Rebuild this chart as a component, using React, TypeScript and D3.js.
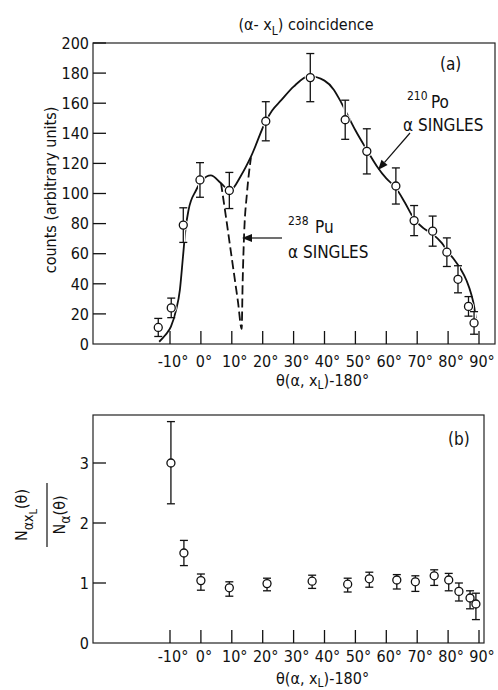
import React from 'react';
import * as d3 from 'd3';

// (a) alpha - x_L coincidence counts
const topTheta = [-13.8, -9.6, -5.7, -0.3, 9.2, 21, 35.4, 46.7, 53.7, 63.1, 69, 75, 79.6, 83.2, 86.6, 88.4];
const topCounts = [11, 24, 79, 109, 102, 148, 177, 149, 128, 105, 82, 75, 61, 43, 25, 14];
const topErr = [6, 6.5, 11.5, 11.5, 12, 13, 16, 13, 15, 12, 10, 10, 9.5, 9, 6.5, 7.5];

// 210Po alpha singles (solid curve)
const poTheta = [-13.5, -11.5, -9.7, -8.1, -6.8, -5.8, -5.0, -4.0, -1.6, 0.5, 3.2, 6.5, 9.4, 13, 16.2, 21, 23, 26, 30, 35, 40, 43, 45, 47.5, 50, 53.7, 57, 60, 63, 66, 69, 72, 75, 78, 80, 82, 84, 86, 87.5, 88.5, 89];
const poCounts = [1.5, 6, 11.5, 22, 36, 58, 76, 89, 102, 109, 112, 106.8, 102, 112, 124.5, 148, 155, 162, 171, 178, 175, 169, 162, 152, 142, 129, 118, 110, 104, 94, 83, 77, 73, 67, 61, 56, 50, 42, 33, 24, 16];

// 238Pu alpha singles (dashed curve, where it departs from the solid one)
const puTheta = [6.5, 8, 10, 12, 13.2, 13.5, 14, 14.9, 16.2];
const puCounts = [107, 86, 57, 28, 10, 40, 73.5, 100, 124];

// (b) ratio N_axL / N_a
const ratioTheta = [-9.7, -5.5, 0, 9.2, 21.4, 36, 47.5, 54.5, 63.4, 69.4, 75.5, 80.2, 83.5, 87.1, 89];
const ratio = [3.0, 1.5, 1.04, 0.92, 0.99, 1.03, 0.98, 1.07, 1.05, 1.02, 1.12, 1.05, 0.86, 0.75, 0.65];
const ratioLo = [2.32, 1.29, 0.88, 0.78, 0.87, 0.91, 0.85, 0.93, 0.9, 0.86, 0.96, 0.87, 0.7, 0.57, 0.39];
const ratioHi = [3.69, 1.71, 1.15, 1.02, 1.08, 1.13, 1.08, 1.18, 1.14, 1.12, 1.22, 1.16, 1.0, 0.87, 0.83];

const xTicks = [-10, 0, 10, 20, 30, 40, 50, 60, 70, 80, 90];
const topYTicks = [0, 20, 40, 60, 80, 100, 120, 140, 160, 180, 200];
const botYTicks = [0, 1, 2, 3];

const FONT = "'Liberation Sans Narrow', 'DejaVu Sans Condensed', sans-serif";

const A = { left: 93, right: 495, top: 43, bottom: 344 };
const B = { left: 93, right: 484, top: 415, bottom: 643 };

const x = d3.scaleLinear().domain([-10, 90]).range([170, 479]);
const yTop = d3.scaleLinear().domain([0, 200]).range([344, 43]);
const yBot = d3.scaleLinear().domain([0, 3]).range([643, 463]);

const TL = 13;

function Points({ xs, ys, lo, hi, yScale }) {
  return (
    <g>
      {xs.map((t, i) => {
        const cx = x(t);
        return (
          <g key={i}>
            <line x1={cx} x2={cx} y1={yScale(lo[i])} y2={yScale(hi[i])} stroke="#fff" strokeWidth={4} />
            <circle cx={cx} cy={yScale(ys[i])} r={5.5} fill="#fff" />
          </g>
        );
      })}
      {xs.map((t, i) => {
        const cx = x(t);
        const y1 = yScale(lo[i]);
        const y2 = yScale(hi[i]);
        return (
          <g key={'p' + i} stroke="#111" strokeWidth={1.3}>
            <line x1={cx} x2={cx} y1={y1} y2={y2} />
            <line x1={cx - 4} x2={cx + 4} y1={y1} y2={y1} />
            <line x1={cx - 4} x2={cx + 4} y1={y2} y2={y2} />
            <circle cx={cx} cy={yScale(ys[i])} r={4} fill="#fff" />
          </g>
        );
      })}
    </g>
  );
}

function Frame({ box, yScale, yTicks, labelGap }) {
  return (
    <g>
      <rect x={box.left} y={box.top} width={box.right - box.left} height={box.bottom - box.top}
        fill="none" stroke="#222" strokeWidth={1.2} />
      {xTicks.map(t => (
        <g key={t}>
          <line x1={x(t)} x2={x(t)} y1={box.bottom} y2={box.bottom - TL} stroke="#111" strokeWidth={1.3} />
          <text x={x(t) + 3} y={box.bottom + labelGap} textAnchor="middle" fontSize={16}>{t}°</text>
        </g>
      ))}
      {yTicks.map(v => (
        <g key={v}>
          {v !== 0 && <line x1={box.left} x2={box.left + TL} y1={yScale(v)} y2={yScale(v)} stroke="#111" strokeWidth={1.3} />}
          <text x={box.left - 4} y={yScale(v)} dy="0.36em" textAnchor="end" fontSize={16}>{v}</text>
        </g>
      ))}
    </g>
  );
}

function XTitle({ yb }) {
  return (
    <text x={276} y={yb} fontSize={16}>
      θ(α, x<tspan dy={3} fontSize={12}>L</tspan><tspan dy={-3}>)-180°</tspan>
    </text>
  );
}

function Arrow({ x1, y1, x2, y2 }) {
  const ang = Math.atan2(y2 - y1, x2 - x1);
  const L = 10, W = 4;
  const bx = x2 - L * Math.cos(ang);
  const by = y2 - L * Math.sin(ang);
  const px = -Math.sin(ang) * W;
  const py = Math.cos(ang) * W;
  return (
    <g>
      <line x1={x1} y1={y1} x2={bx} y2={by} stroke="#111" strokeWidth={1.2} />
      <path d={`M${x2},${y2}L${bx + px},${by + py}L${bx - px},${by - py}Z`} fill="#111" />
    </g>
  );
}

export default function App() {
  const poLine = d3.line<number>()
    .x((d, i) => x(poTheta[i]))
    .y(d => yTop(d))
    .curve(d3.curveMonotoneX);
  const puLine = d3.line<number>()
    .x((d, i) => x(puTheta[i]))
    .y(d => yTop(d))
    .curve(d3.curveMonotoneX);

  const topLo = topCounts.map((c, i) => c - topErr[i]);
  const topHi = topCounts.map((c, i) => c + topErr[i]);

  return (
    <svg width={498} height={690} style={{ position: 'absolute', left: 0, top: 0 }}
      fontFamily={FONT} fill="#111">
      <rect width={498} height={690} fill="#fff" />

      {/* panel (a) */}
      <text x={306} y={30} textAnchor="middle" fontSize={16}>
        (α- x<tspan dy={5} fontSize={12}>L</tspan><tspan dy={-5}>) coincidence</tspan>
      </text>
      <Frame box={A} yScale={yTop} yTicks={topYTicks} labelGap={23} />
      <text transform="translate(56,190) rotate(-90)" textAnchor="middle" fontSize={16}>counts (arbitrary units)</text>
      <XTitle yb={386} />

      <path d={puLine(puCounts) || ''} fill="none" stroke="#111" strokeWidth={1.8} strokeDasharray="9,4" />
      <path d={poLine(poCounts) || ''} fill="none" stroke="#111" strokeWidth={1.8} />
      <Points xs={topTheta} ys={topCounts} lo={topLo} hi={topHi} yScale={yTop} />

      <text x={440} y={70} fontSize={17}>(a)</text>
      <text x={407} y={100} fontSize={12}>210</text>
      <text x={431} y={108} fontSize={17}>Po</text>
      <text x={403} y={131} fontSize={17}>α SINGLES</text>
      <Arrow x1={410} y1={133} x2={378} y2={170} />

      <text x={288} y={225} fontSize={12}>238</text>
      <text x={315} y={233} fontSize={17}>Pu</text>
      <text x={288} y={258} fontSize={17}>α SINGLES</text>
      <Arrow x1={282} y1={238} x2={242} y2={238} />

      {/* panel (b) */}
      <Frame box={B} yScale={yBot} yTicks={botYTicks} labelGap={19} />
      <Points xs={ratioTheta} ys={ratio} lo={ratioLo} hi={ratioHi} yScale={yBot} />
      <text x={448} y={445} fontSize={17}>(b)</text>
      <XTitle yb={684} />

      <g transform="translate(47,515) rotate(-90)">
        <line x1={-32} x2={32} y1={0} y2={0} stroke="#111" strokeWidth={1.2} />
        <text x={0} y={-20} textAnchor="middle" fontSize={16}>
          N<tspan dy={6} fontSize={14}>αx</tspan><tspan dy={4} fontSize={11}>L</tspan><tspan dy={-10} fontSize={16}>(θ)</tspan>
        </text>
        <text x={0} y={18} textAnchor="middle" fontSize={16}>
          N<tspan dy={5} fontSize={14}>α</tspan><tspan dy={-5} fontSize={16}>(θ)</tspan>
        </text>
      </g>
    </svg>
  );
}
